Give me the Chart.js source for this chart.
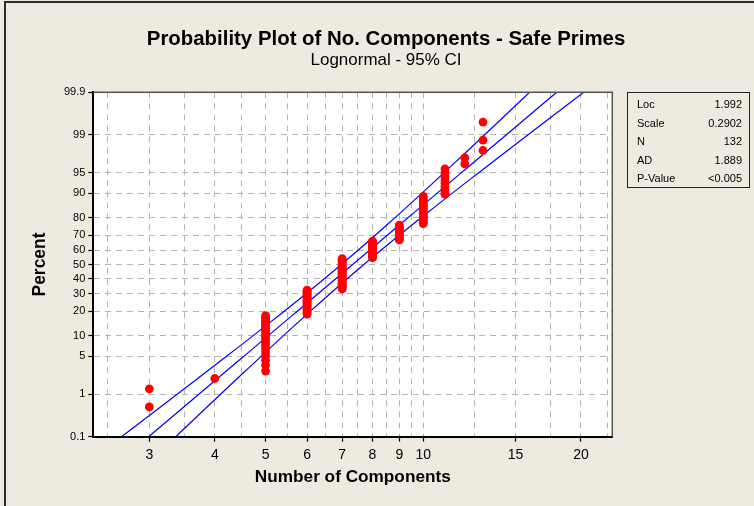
<!DOCTYPE html>
<html>
<head>
<meta charset="utf-8">
<script src="https://cdn.jsdelivr.net/npm/chart.js@4.4.0/dist/chart.umd.min.js"></script>
<style>
html,body{margin:0;padding:0;background:#EEEAE0;}
#wrap{position:relative;width:754px;height:506px;overflow:hidden;background:#EEEAE0;}
#frame{position:absolute;left:4px;top:1px;width:800px;height:600px;border-left:2px solid #2b2b2b;border-top:2px solid #2b2b2b;}
canvas{position:absolute;left:0;top:0;}
#stats{position:absolute;left:627px;top:92px;width:121px;height:94px;border:1px solid #222;font-family:'Liberation Sans',Arial,sans-serif;font-size:11px;color:#000;}
#stats .row{position:absolute;left:9px;right:7px;height:14px;line-height:14px;}
#stats .row .l{position:absolute;left:0;}
#stats .row .v{position:absolute;right:0;}
</style>
</head>
<body>
<div id="wrap">
<canvas id="c" width="754" height="506"></canvas>
<div id="frame"></div>
<div id="stats"></div>
</div>
<script>
// ---- data ----
const componentValues = [3, 4, 5, 6, 7, 8, 9, 10, 11, 12, 13];
const componentCounts = [2, 1, 21, 19, 29, 16, 13, 17, 9, 2, 3];
const percentTicks = [0.1, 1, 5, 10, 20, 30, 40, 50, 60, 70, 80, 90, 95, 99, 99.9];
const xTickLabels = [3, 4, 5, 6, 7, 8, 9, 10, 15, 20];
const xGridValues = [2.5, 3, 3.5, 4, 4.5, 5, 5.5, 6, 6.5, 7, 7.5, 8, 8.5, 9, 9.5, 10, 12.5, 15, 17.5, 20, 22.5];
const statLabels = ['Loc', 'Scale', 'N', 'AD', 'P-Value'];
const statValues = ['1.992', '0.2902', '132', '1.889', '<0.005'];
const fitLoc = 1.992;
const fitScale = 0.2902;
const sampleN = 132;
const xRange = [2.345, 22.95];
const percentRange = [0.1, 99.9];

const FONT = "'Liberation Sans', Arial, sans-serif";

// inverse standard normal CDF (probability-paper scale)
function probit(p){
  const a=[-3.969683028665376e+01,2.209460984245205e+02,-2.759285104469687e+02,1.383577518672690e+02,-3.066479806614716e+01,2.506628277459239e+00];
  const b=[-5.447609879822406e+01,1.615858368580409e+02,-1.556989798598866e+02,6.680131188771972e+01,-1.328068155288572e+01];
  const c=[-7.784894002430293e-03,-3.223964580411365e-01,-2.400758277161838e+00,-2.549732539343734e+00,4.374664141464968e+00,2.938163982698783e+00];
  const d=[7.784695709041462e-03,3.224671290700398e-01,2.445134137142996e+00,3.754408661907416e+00];
  const pl=0.02425, ph=1-pl; let q,r;
  if(p<pl){q=Math.sqrt(-2*Math.log(p));return (((((c[0]*q+c[1])*q+c[2])*q+c[3])*q+c[4])*q+c[5])/((((d[0]*q+d[1])*q+d[2])*q+d[3])*q+1);}
  if(p<=ph){q=p-0.5;r=q*q;return (((((a[0]*r+a[1])*r+a[2])*r+a[3])*r+a[4])*r+a[5])*q/(((((b[0]*r+b[1])*r+b[2])*r+b[3])*r+b[4])*r+1);}
  q=Math.sqrt(-2*Math.log(1-p));return -(((((c[0]*q+c[1])*q+c[2])*q+c[3])*q+c[4])*q+c[5])/((((d[0]*q+d[1])*q+d[2])*q+d[3])*q+1);
}

// points: each observation at its value, plotted at median rank (Benard)
const points = [];
let rank = 0;
componentValues.forEach((v, k) => {
  for (let j = 0; j < componentCounts[k]; j++) {
    rank++;
    const p = (rank - 0.3) / (sampleN + 0.4);
    points.push({x: v, y: probit(p)});
  }
});

// fitted lognormal line and 95% CI from Loc / Scale / N
const zMin = probit(percentRange[0] / 100), zMax = probit(percentRange[1] / 100);
const fitLine = [], ciUpper = [], ciLower = [];
const steps = 60;
for (let s = 0; s <= steps; s++) {
  const z = zMin + (zMax - zMin) * s / steps;
  const m = fitLoc + z * fitScale;
  const se = fitScale * Math.sqrt(1 / sampleN + z * z / (2 * sampleN));
  fitLine.push({x: Math.exp(m), y: z});
  ciUpper.push({x: Math.exp(m - 1.96 * se), y: z});
  ciLower.push({x: Math.exp(m + 1.96 * se), y: z});
}

// stats box
const statsEl = document.getElementById('stats');
const rowTops = [4, 22.5, 41, 59.5, 78];
statLabels.forEach((l, i) => {
  const row = document.createElement('div');
  row.className = 'row';
  row.style.top = rowTops[i] + 'px';
  row.innerHTML = '<span class="l"></span><span class="v"></span>';
  row.querySelector('.l').textContent = l;
  row.querySelector('.v').textContent = statValues[i];
  statsEl.appendChild(row);
});

// fit font sizes to target widths
const mctx = document.createElement('canvas').getContext('2d');
function fitSize(text, weight, target){
  mctx.font = weight + ' 100px ' + FONT;
  return 100 * target / mctx.measureText(text).width;
}
const TITLE = 'Probability Plot of No. Components - Safe Primes';
const SUBTITLE = 'Lognormal - 95% CI';
const XTITLE = 'Number of Components';
const YTITLE = 'Percent';
const tSize = fitSize(TITLE, 'bold', 479);
const sSize = fitSize(SUBTITLE, 'normal', 151);
const xtSize = fitSize(XTITLE, 'bold', 196);
const ytSize = fitSize(YTITLE, 'bold', 64);

const tH = tSize * 1.2, sH = sSize * 1.2;
const tPadTop = 39 - tH / 2;
const tEnd = tPadTop + tH;
const sPadTop = 60 - tEnd - sH / 2;
const sPadBottom = 92.3 - (tEnd + sPadTop + sH);

const chartTop = 92.3, chartBottom = 436.7, chartLeft = 93.3, chartRight = 612.3;
const leftPad = 18;

const areaPlugin = {
  id: 'area',
  beforeDraw(chart){
    const {ctx, chartArea: a} = chart;
    ctx.save();
    ctx.fillStyle = '#FFFFFF';
    ctx.fillRect(a.left, a.top, a.right - a.left, a.bottom - a.top);
    ctx.restore();
  },
  afterDraw(chart){
    const {ctx, chartArea: a} = chart;
    ctx.save();
    ctx.strokeStyle = '#555555';
    ctx.lineWidth = 1.5;
    ctx.beginPath();
    ctx.moveTo(a.left, a.top);
    ctx.lineTo(a.right, a.top);
    ctx.lineTo(a.right, a.bottom);
    ctx.stroke();
    ctx.restore();
  }
};

new Chart(document.getElementById('c'), {
  type: 'scatter',
  data: {
    datasets: [
      {label: 'Components', data: points, backgroundColor: '#FF0000', borderWidth: 0, pointRadius: 4.4, order: 0},
      {label: 'Fit', data: fitLine, showLine: true, borderColor: '#0000FF', borderWidth: 1.2, pointRadius: 0, order: 1},
      {label: 'CI upper', data: ciUpper, showLine: true, borderColor: '#0000FF', borderWidth: 1.2, pointRadius: 0, order: 1},
      {label: 'CI lower', data: ciLower, showLine: true, borderColor: '#0000FF', borderWidth: 1.2, pointRadius: 0, order: 1}
    ]
  },
  options: {
    responsive: false,
    animation: false,
    devicePixelRatio: 1,
    layout: {padding: {left: leftPad, right: 0, top: 0, bottom: 0}},
    plugins: {
      legend: {display: false},
      tooltip: {enabled: false},
      title: {display: true, text: TITLE, color: '#000', font: {family: FONT, size: tSize, weight: 'bold'}, padding: {top: tPadTop, bottom: 0}},
      subtitle: {display: true, text: SUBTITLE, color: '#000', font: {family: FONT, size: sSize, weight: 'normal'}, padding: {top: sPadTop, bottom: sPadBottom}}
    },
    scales: {
      x: {
        type: 'logarithmic',
        min: xRange[0], max: xRange[1], bounds: 'data',
        afterBuildTicks(scale){ scale.ticks = xGridValues.map(v => ({value: v})); },
        afterFit(scale){ scale.height = 506 - chartBottom; },
        ticks: {
          autoSkip: false, maxRotation: 0, minRotation: 0, padding: 5, color: '#000',
          font: {family: FONT, size: 14},
          callback(value){ return xTickLabels.includes(value) ? String(value) : ''; }
        },
        grid: {
          color: '#B4B4B4', lineWidth: 1, tickLength: 5, tickWidth: 1.2,
          tickColor: (c) => (c.tick && xTickLabels.includes(c.tick.value)) ? '#000' : 'rgba(0,0,0,0)',
          tickBorderDash: []
        },
        border: {display: true, color: '#000', width: 2, dash: [6, 5]},
        title: {display: true, text: XTITLE, color: '#000', font: {family: FONT, size: xtSize, weight: 'bold'}, padding: {top: 0, bottom: 29 - xtSize * 0.6}}
      },
      y: {
        type: 'linear',
        min: zMin, max: zMax, bounds: 'data',
        afterBuildTicks(scale){ scale.ticks = percentTicks.map(p => ({value: probit(p / 100)})); },
        afterFit(scale){ scale.width = chartLeft - leftPad; },
        ticks: {
          autoSkip: false, padding: 3, color: '#000',
          font: {family: FONT, size: 11},
          callback(value, index){ return String(percentTicks[index]); }
        },
        grid: {
          color: '#B4B4B4', lineWidth: 1, tickLength: 5, tickWidth: 1.2, tickColor: '#000', tickBorderDash: []
        },
        border: {display: true, color: '#000', width: 2, dash: [6, 5]},
        title: {display: true, text: YTITLE, color: '#000', font: {family: FONT, size: ytSize, weight: 'bold'}, padding: {top: 40 - leftPad - ytSize * 0.6, bottom: 0}}
      },
      yR: {
        type: 'linear', position: 'right', display: true,
        grid: {display: false, drawOnChartArea: false},
        border: {display: false},
        ticks: {display: false},
        afterFit(scale){ scale.width = 754 - chartRight; }
      }
    }
  },
  plugins: [areaPlugin]
});
</script>
</body>
</html>
